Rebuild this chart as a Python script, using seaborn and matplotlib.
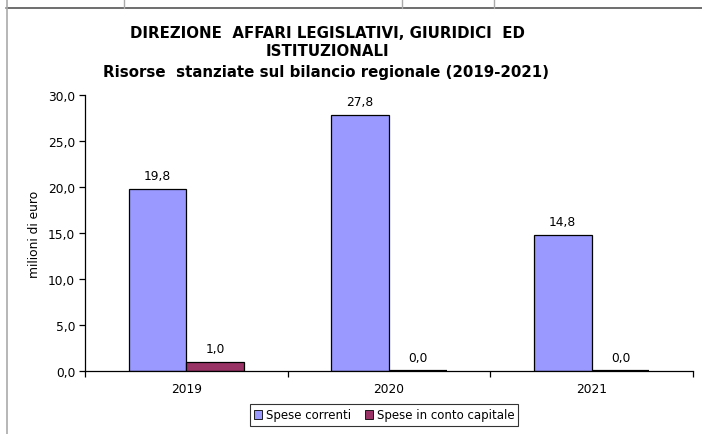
import pandas as pd
import numpy as np
import matplotlib
matplotlib.use("Agg")
import matplotlib.pyplot as plt
from matplotlib.lines import Line2D
import seaborn as sns

# Data
years = ["2019", "2020", "2021"]
spese_correnti = [19.8, 27.8, 14.8]
spese_capitale = [1.0, 0.0, 0.0]
series_names = ["Spese correnti", "Spese in conto capitale"]
colors = ["#9999FF", "#993366"]
y_ticks = [0, 5, 10, 15, 20, 25, 30]

df = pd.DataFrame({
    "anno": years * 2,
    "valore": spese_correnti + spese_capitale,
    "serie": [series_names[0]] * 3 + [series_names[1]] * 3,
})

sns.set_style("white")
plt.rcParams['font.family'] = ['DejaVu Sans']
plt.rcParams['text.color'] = 'black'
plt.rcParams['axes.labelcolor'] = 'black'
plt.rcParams['xtick.color'] = 'black'
plt.rcParams['ytick.color'] = 'black'

fig = plt.figure(figsize=(7.02, 4.35), dpi=100)
ax = fig.add_axes([85/702, 1 - 372/435, 608/702, 276/435])

sns.barplot(data=df, x="anno", y="valore", hue="serie", palette=colors,
            width=0.57, edgecolor="black", linewidth=0.9, saturation=1,
            legend=False, ax=ax)

# data labels with comma decimals
for p in ax.patches:
    h = p.get_height()
    ax.annotate(f"{h:.1f}".replace(".", ","), (p.get_x() + p.get_width()/2, h),
                xytext=(0, 5), textcoords="offset points",
                ha="center", va="bottom", fontsize=8.8, color="black")
# zero bars shown as thin line
for p in ax.patches:
    if p.get_height() == 0:
        p.set_linewidth(1.6)

ax.set_xlim(-0.5, 2.5)
ax.set_ylim(0, 30)
ax.set_yticks(y_ticks)
ax.set_yticklabels([f"{v:.1f}".replace(".", ",") for v in y_ticks], fontsize=8.8)
ax.tick_params(axis="y", direction="out", length=4, width=0.9, color="black", pad=3, left=True)
ax.set_xticks([0, 1, 2])
ax.set_xticklabels(years, fontsize=8.8)
ax.tick_params(axis="x", which="major", length=0, pad=8)
ax.set_xticks([-0.5, 0.5, 1.5, 2.5], minor=True)
ax.tick_params(axis="x", which="minor", direction="out", length=4, width=0.9, color="black", bottom=True)

ax.set_xlabel("")
ax.set_ylabel("milioni di euro", fontsize=8.8, labelpad=5)

for s in ["top", "right"]:
    ax.spines[s].set_visible(False)
for s in ["left", "bottom"]:
    ax.spines[s].set_color("black")
    ax.spines[s].set_linewidth(0.9)

# title
title_kw = dict(ha="center", va="center", fontsize=10.8, fontweight="bold", color="black")
fig.text(327/702, 1 - 34/435, "DIREZIONE  AFFARI LEGISLATIVI, GIURIDICI  ED", **title_kw)
fig.text(327/702, 1 - 52/435, "ISTITUZIONALI", **title_kw)
fig.text(326/702, 1 - 72/435, "Risorse  stanziate sul bilancio regionale (2019-2021)", **title_kw)

# legend
handles = [plt.Rectangle((0, 0), 1, 1, facecolor=c, edgecolor="black", linewidth=0.6) for c in colors]
leg = fig.legend(handles, series_names, loc="center", bbox_to_anchor=(384/702, 1 - 416/435),
                 ncol=2, fontsize=8.5, frameon=True, fancybox=False, handlelength=0.7,
                 handleheight=0.7, handletextpad=0.3, columnspacing=1.2, borderpad=0.35)
leg.get_frame().set_edgecolor("black")
leg.get_frame().set_linewidth(0.8)

# page frame lines
fig.add_artist(Line2D([6/702, 1], [1 - 9/435] * 2, color="#555555", lw=1.2))
fig.add_artist(Line2D([7/702] * 2, [0, 1], color="#aaaaaa", lw=1.2))
for xv in [124, 402, 494]:
    fig.add_artist(Line2D([xv/702] * 2, [1 - 9/435, 1], color="#aaaaaa", lw=1.0))

fig.savefig("out.png", dpi=100, facecolor="white")
